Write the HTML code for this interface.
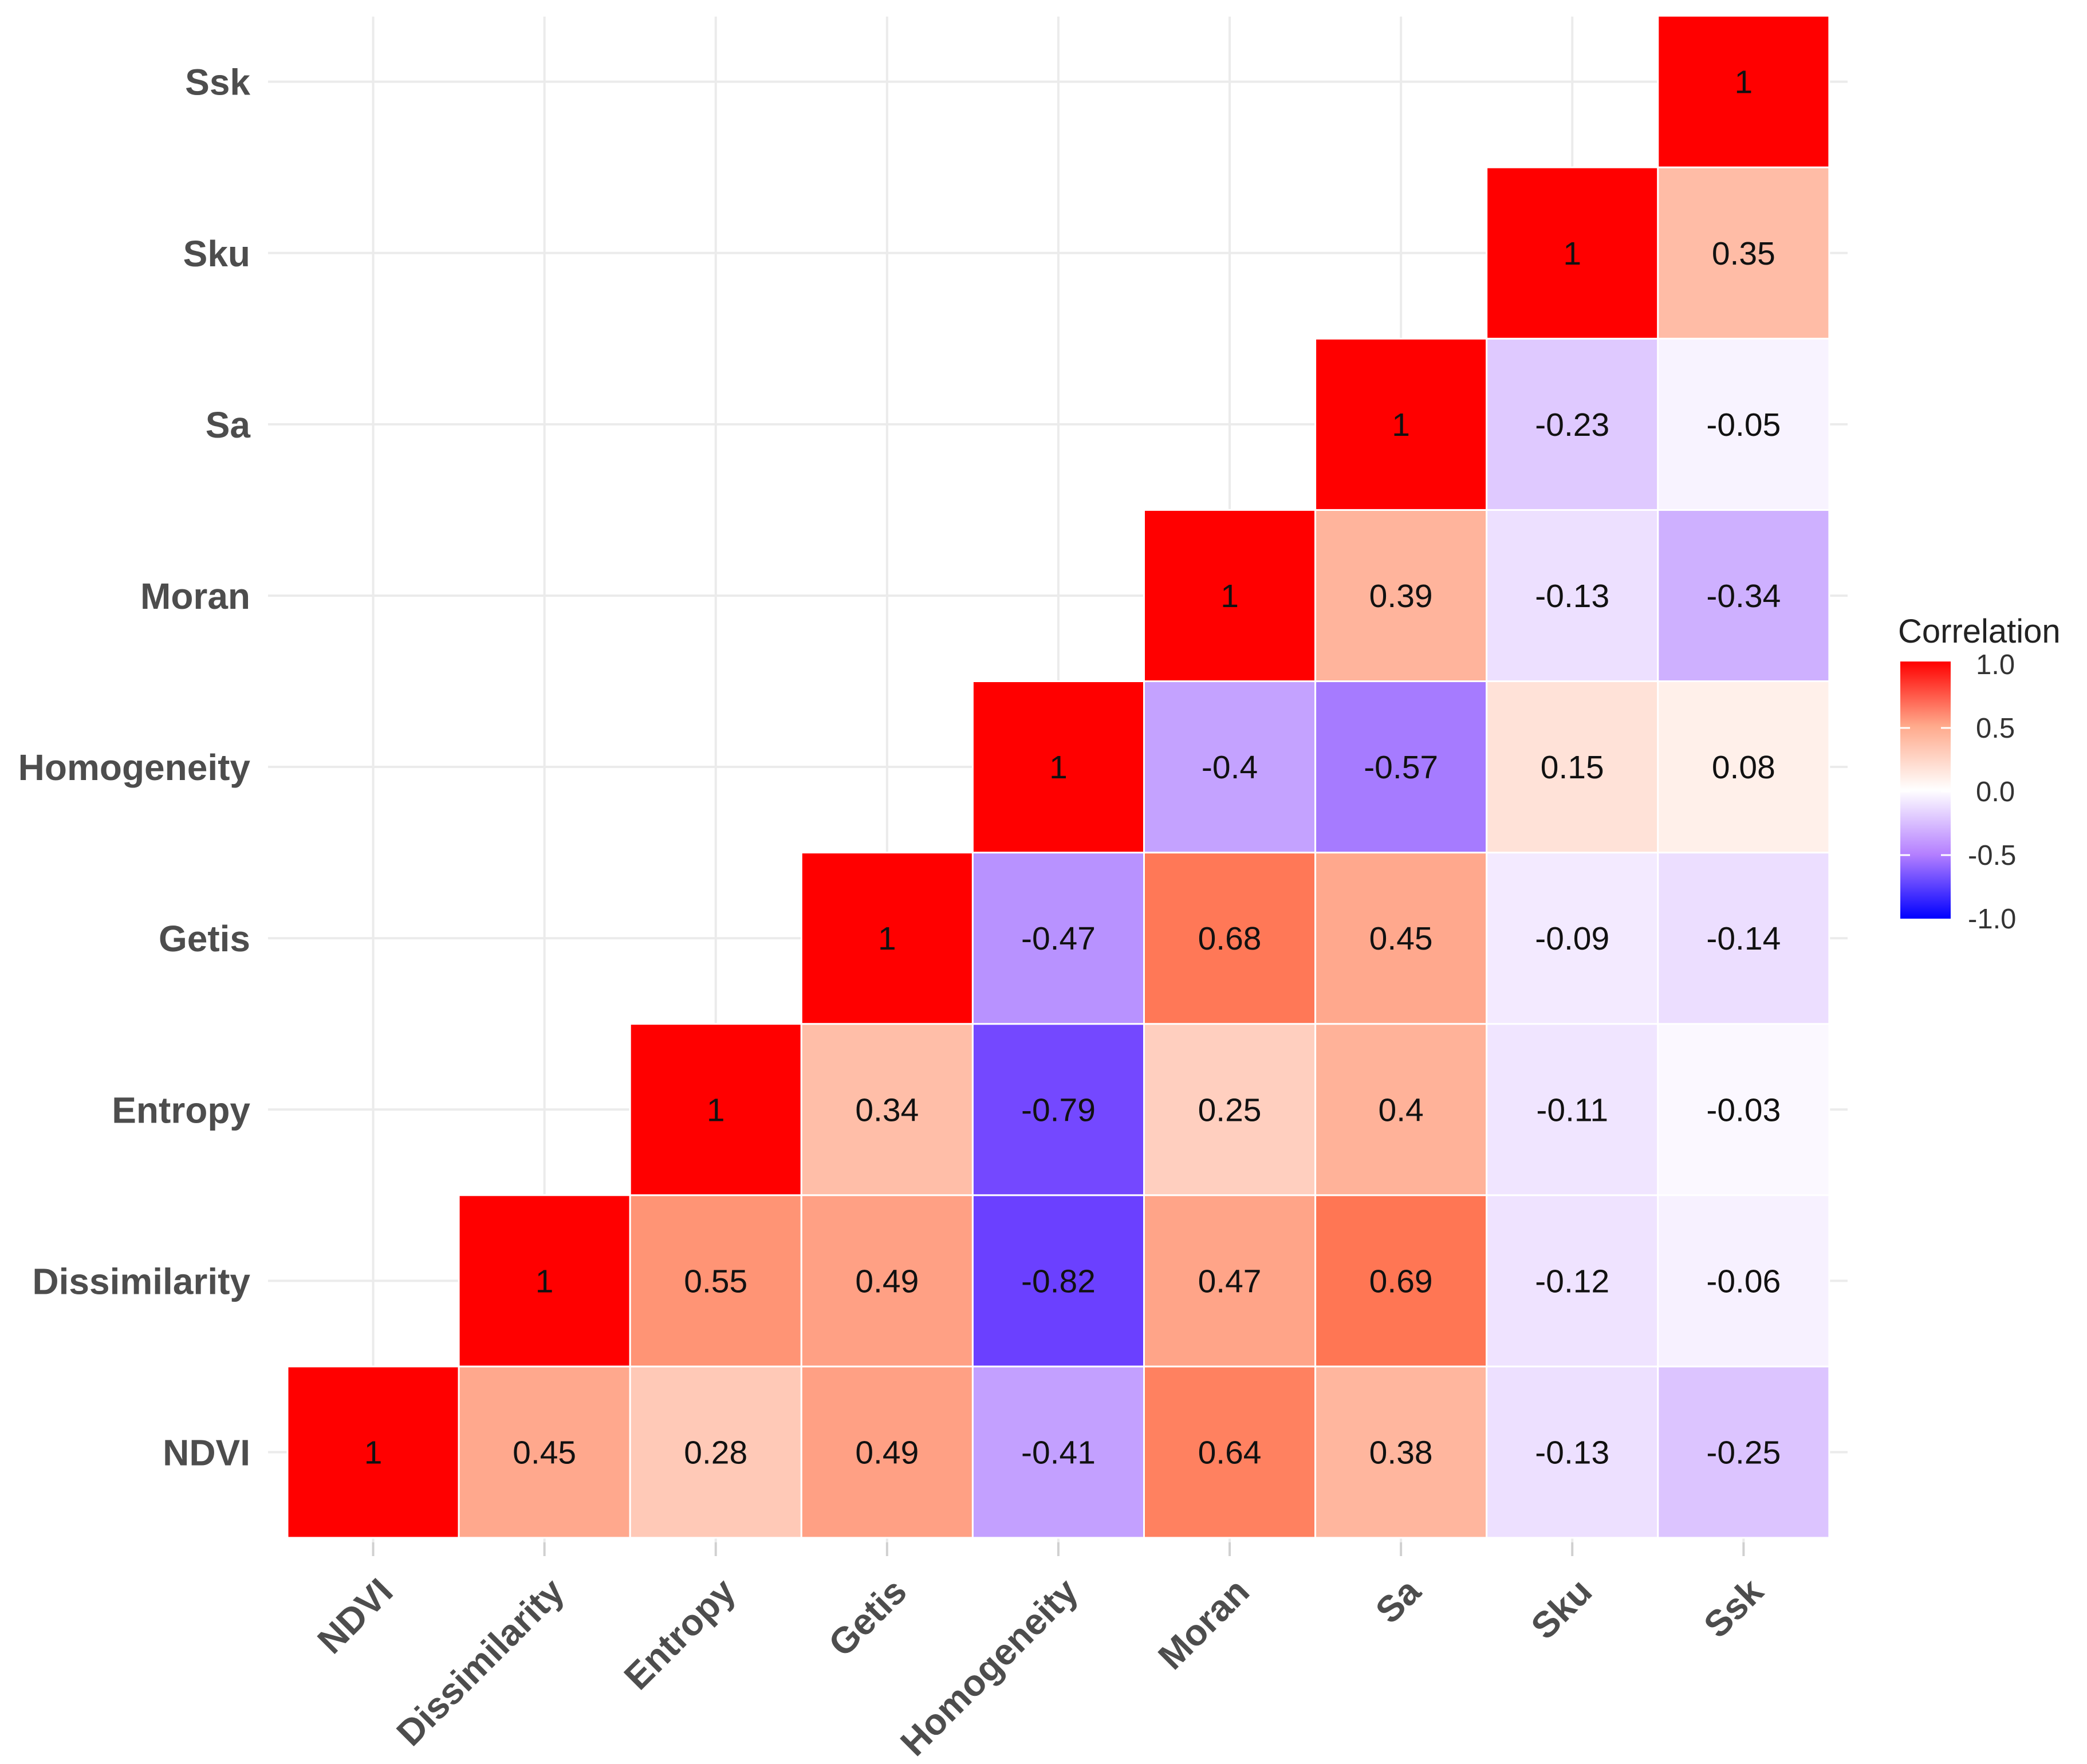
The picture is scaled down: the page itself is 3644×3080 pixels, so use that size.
<!DOCTYPE html>
<html><head><meta charset="utf-8"><style>
html,body{margin:0;padding:0;background:#fff;}
svg{display:block;font-family:"Liberation Sans",Arial,sans-serif;}
</style></head><body>
<svg id="chart" width="3644" height="3080" viewBox="0 0 3644 3080" xmlns="http://www.w3.org/2000/svg">
<defs>
<linearGradient id="lg" x1="0" y1="1" x2="0" y2="0">
<stop offset="0" stop-color="#0000FF"/><stop offset="0.25" stop-color="#B47FFF"/><stop offset="0.5" stop-color="#FFFFFF"/><stop offset="0.75" stop-color="#FFA98B"/><stop offset="1" stop-color="#FF0000"/>
</linearGradient>
<clipPath id="panelClip"><rect x="0" y="29" width="3644" height="3051"/></clipPath>
</defs>
<g clip-path="url(#panelClip)">
<g id="grid"></g>
<g id="cells"></g>
</g>
<g id="ylabels"></g>
<g id="xlabels"></g>
<g>
<text x="3314" y="1122" font-size="58" fill="#222">Correlation</text>
<rect x="3318" y="1155" width="88" height="449" fill="url(#lg)"/>
<g id="legendTicks"></g>
</g>
</svg>
<script>
const categories = ["NDVI","Dissimilarity","Entropy","Getis","Homogeneity","Moran","Sa","Sku","Ssk"];
const rowNDVI = [1,0.45,0.28,0.49,-0.41,0.64,0.38,-0.13,-0.25];
const rowDissimilarity = [1,0.55,0.49,-0.82,0.47,0.69,-0.12,-0.06];
const rowEntropy = [1,0.34,-0.79,0.25,0.4,-0.11,-0.03];
const rowGetis = [1,-0.47,0.68,0.45,-0.09,-0.14];
const rowHomogeneity = [1,-0.4,-0.57,0.15,0.08];
const rowMoran = [1,0.39,-0.13,-0.34];
const rowSa = [1,-0.23,-0.05];
const rowSku = [1,0.35];
const rowSsk = [1];
const legendTicks = [1.0,0.5,0.0,-0.5,-1.0];

const rows = [rowNDVI,rowDissimilarity,rowEntropy,rowGetis,rowHomogeneity,rowMoran,rowSa,rowSku,rowSsk];
const NS = "http://www.w3.org/2000/svg";
const X0 = 502, Y1 = 2685, CW = 299.1, CH = 299.1;
const xCenter = i => X0 + (i + 0.5) * CW;
const yCenter = i => Y1 - (i + 0.5) * CH;
const legY = v => 1160 + (1 - v) / 2 * 444;

function mk(tag, attrs, parent){const e=document.createElementNS(NS,tag);for(const k in attrs)e.setAttribute(k,attrs[k]);parent.appendChild(e);return e;}

function toLin(c){c/=255;return c<=0.04045?c/12.92:Math.pow((c+0.055)/1.055,2.4);}
function fromLin(c){c=c<=0.0031308?12.92*c:1.055*Math.pow(c,1/2.4)-0.055;return Math.max(0,Math.min(255,Math.round(c*255)));}
function rgb2lab(r,g,b){r=toLin(r);g=toLin(g);b=toLin(b);
 let x=(r*0.4124+g*0.3576+b*0.1805)/0.95047,y=(r*0.2126+g*0.7152+b*0.0722),z=(r*0.0193+g*0.1192+b*0.9505)/1.08883;
 const f=t=>t>0.008856?Math.cbrt(t):7.787*t+16/116;x=f(x);y=f(y);z=f(z);return [116*y-16,500*(x-y),200*(y-z)];}
function lab2rgb(L,a,bb){let y=(L+16)/116,x=a/500+y,z=y-bb/200;
 const f=t=>t*t*t>0.008856?t*t*t:(t-16/116)/7.787;x=f(x)*0.95047;y=f(y);z=f(z)*1.08883;
 const r=x*3.2406+y*-1.5372+z*-0.4986,g=x*-0.9689+y*1.8758+z*0.0415,b=x*0.0557+y*-0.2040+z*1.0570;
 return "rgb("+fromLin(r)+","+fromLin(g)+","+fromLin(b)+")";}
const W=rgb2lab(255,255,255),R=rgb2lab(255,0,0),B=rgb2lab(0,0,255);
function color(v){const t=Math.abs(v),E=v>=0?R:B;return lab2rgb(W[0]+(E[0]-W[0])*t,W[1]+(E[1]-W[1])*t,W[2]+(E[2]-W[2])*t);}

const grid=document.getElementById("grid");
categories.forEach((c,i)=>{
 const v=mk("line",{x1:xCenter(i),x2:xCenter(i),y1:0,y2:2693,stroke:"#ebebeb","stroke-width":4},grid);
 
 
 const h=mk("line",{x1:468,x2:3226,y1:yCenter(i),y2:yCenter(i),stroke:"#ebebeb","stroke-width":4},grid);
 
 
 const t=mk("line",{x1:xCenter(i),x2:xCenter(i),y1:2693,y2:2717,stroke:"#d0d0d0","stroke-width":4},grid);
 
 
});

const cells=document.getElementById("cells");
rows.forEach((vals,r)=>{
 vals.forEach((v,k)=>{
  const c=r+k;
  const rect=mk("rect",{x:xCenter(c)-CW/2,y:yCenter(r)-CH/2,width:CW,height:CH,fill:color(v),stroke:"#fff","stroke-width":3},cells);
  
  
  const tx=mk("text",{x:xCenter(c),y:yCenter(r)+20,"text-anchor":"middle","font-size":57,fill:"#111"},cells);
  tx.textContent=String(v);
  
  
 });
});

const yl=document.getElementById("ylabels"), xl=document.getElementById("xlabels");
categories.forEach((c,i)=>{
 const t=mk("text",{x:437,y:yCenter(i)+23,"text-anchor":"end","font-size":64,"font-weight":"bold",fill:"#4d4d4d"},yl);
 t.textContent=c;
 
 
 const ax=xCenter(i)+38, ay=2783;
 const u=mk("text",{x:ax,y:ay,"text-anchor":"end","font-size":64,"font-weight":"bold",fill:"#4d4d4d",transform:"rotate(-45 "+ax+" "+ay+")"},xl);
 u.textContent=c;
 
 
});

const lt=document.getElementById("legendTicks");
legendTicks.forEach(v=>{
 const y=legY(v);
 if(v<1&&v>-1){
  const a=mk("line",{x1:3318,x2:3335,y1:y,y2:y,stroke:"#fff","stroke-width":3},lt);
  
  
  const b=mk("line",{x1:3389,x2:3406,y1:y,y2:y,stroke:"#fff","stroke-width":3},lt);
  
  
 }
 const t=mk("text",{x:v<0?3436:3450,y:y+17,"font-size":49,fill:"#333"},lt);
 t.textContent=v.toFixed(1);
 
 
});
</script>
</body></html>
